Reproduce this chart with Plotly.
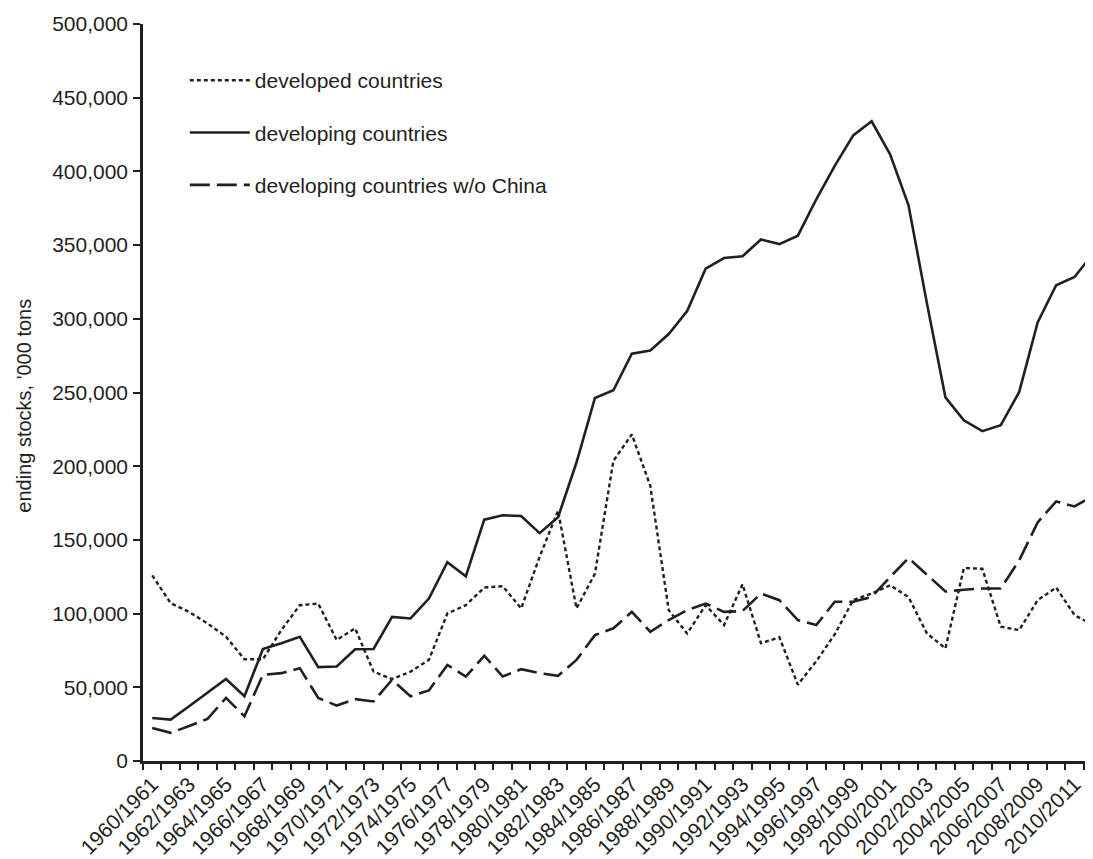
import plotly.graph_objects as go

# Marketing years 1960/1961 ... 2011/2012
seasons = [f"{y}/{y+1}" for y in range(1960, 2012)]

# ending stocks, '000 tons
developed = [125.9, 107.1, 101.1, 93.3, 84.3, 69.0, 69.0, 88.8, 105.7, 106.8,
             82.1, 90.0, 60.6, 55.6, 60.6, 68.6, 100.1, 105.7, 117.7, 118.6,
             103.5, 138.5, 169.8, 103.5, 127.1, 203.6, 221.6, 186.7, 102.3, 86.5,
             105.7, 92.2, 119.9, 79.9, 83.9, 51.8, 67.7, 85.9, 109.2, 113.6,
             119.2, 111.2, 86.5, 76.4, 130.9, 130.4, 91.1, 88.8, 109.1, 117.7,
             99.0, 92.2]
developing = [29.2, 28.1, 37.1, 46.1, 55.6, 43.9, 76.0, 79.9, 84.3, 63.7,
              64.1, 75.8, 76.0, 97.8, 96.7, 110.2, 134.9, 125.3, 163.7, 166.7,
              166.2, 154.6, 165.4, 202.5, 246.3, 251.5, 276.3, 278.5, 289.7, 305.3,
              334.0, 341.2, 342.4, 353.8, 350.7, 356.4, 381.1, 403.7, 424.4, 434.0,
              411.6, 377.0, 310.3, 246.7, 231.1, 223.8, 227.8, 250.4, 297.6, 322.8,
              328.4, 344.2]
developing_wo_china = [22.4, 19.1, 23.7, 28.6, 42.8, 30.3, 58.5, 59.6, 63.0, 42.8,
                       37.6, 42.0, 40.4, 55.1, 43.9, 47.9, 65.2, 57.3, 71.4, 57.3,
                       62.3, 59.6, 57.8, 68.6, 85.4, 90.0, 101.2, 87.7, 95.6, 102.3,
                       106.8, 101.2, 101.7, 113.6, 109.1, 95.6, 92.2, 108.0, 108.0, 111.3,
                       124.8, 137.7, 126.4, 115.0, 116.2, 117.0, 117.0, 136.1, 161.9, 176.1,
                       172.7, 179.9]

series_names = ["developed countries", "developing countries", "developing countries w/o China"]
y_ticks = [0, 50000, 100000, 150000, 200000, 250000, 300000, 350000, 400000, 450000, 500000]
tick_text_x = [s if i % 2 == 0 else "" for i, s in enumerate(seasons)]

INK = "#231f20"
FONT = "Liberation Sans, Arial, Helvetica, sans-serif"

fig = go.Figure()
styles = [dict(dash="4px,3px", width=2.4),
          dict(dash="solid", width=2.6),
          dict(dash="20px,7px", width=2.6)]
for name, vals, st in zip(series_names, [developed, developing, developing_wo_china], styles):
    fig.add_trace(go.Scatter(
        x=seasons, y=[v * 1000 for v in vals], mode="lines", name=name,
        legendgroup=name, cliponaxis=False,
        line=dict(color=INK, width=st["width"], dash=st["dash"]),
    ))

# page body has an 8px default margin: figure is sized/offset to compensate
fig.update_layout(
    width=1085, height=851,
    margin=dict(l=135, r=0, t=16, b=94, pad=0),
    paper_bgcolor="white", plot_bgcolor="white",
    font=dict(family=FONT, color=INK),
    showlegend=True,
    legend=dict(x=0.044, y=0.951, xanchor="left", yanchor="top",
                font=dict(size=21, color=INK, family=FONT),
                tracegroupgap=22, itemwidth=60,
                bgcolor="rgba(0,0,0,0)"),
    xaxis=dict(type="category", range=[-0.5, 51.0],
               tickmode="array", tickvals=seasons, ticktext=tick_text_x,
               tickson="boundaries", tickangle=-45,
               ticks="outside", ticklen=6, tickwidth=1.5, tickcolor=INK,
               showline=True, linecolor=INK, linewidth=2.5,
               showgrid=False, zeroline=False,
               tickfont=dict(size=21, color=INK, family=FONT)),
    yaxis=dict(range=[0, 500000], tickmode="array", tickvals=y_ticks,
               tickformat=",d",
               ticks="outside", ticklen=7, tickwidth=1.5, tickcolor=INK,
               showline=True, linecolor=INK, linewidth=2.5,
               showgrid=False, zeroline=False, ticklabelstandoff=1,
               tickfont=dict(size=21, color=INK, family=FONT)),
    annotations=[dict(text="ending stocks, '000 tons", textangle=-90,
                      xref="paper", yref="paper", x=-0.1253, y=0.482,
                      xanchor="center", yanchor="middle", showarrow=False,
                      font=dict(size=20, color=INK, family=FONT))],
)

fig.write_html("out.html")
